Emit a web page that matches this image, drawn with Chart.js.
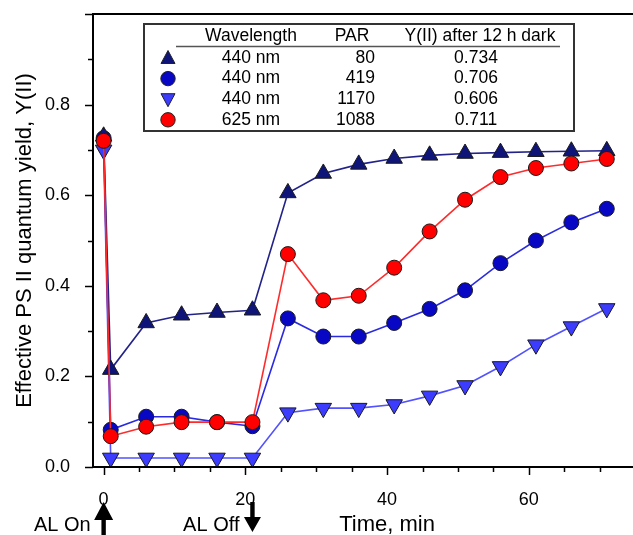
<!DOCTYPE html>
<html>
<head>
<meta charset="utf-8">
<script src="https://cdn.jsdelivr.net/npm/chart.js@4"></script>
<style>
  html, body { margin: 0; padding: 0; background: #fff; }
  #wrap { width: 633px; height: 535px; }
</style>
</head>
<body>
<div id="wrap"><canvas id="chart" width="633" height="535"></canvas></div>
<script>
// time points (min)
const times = [0, 1, 6, 11, 16, 21, 26, 31, 36, 41, 46, 51, 56, 61, 66, 71];

// Y(II) per light treatment
const yield440par80   = [0.73, 0.215, 0.318, 0.335, 0.341, 0.346, 0.605, 0.648, 0.668, 0.681, 0.688, 0.692, 0.694, 0.696, 0.697, 0.698];
const yield440par419  = [0.726, 0.082, 0.111, 0.111, 0.099, 0.09, 0.328, 0.288, 0.288, 0.318, 0.349, 0.39, 0.45, 0.5, 0.54, 0.57];
const yield440par1170 = [0.70, 0.02, 0.02, 0.02, 0.02, 0.02, 0.12, 0.13, 0.13, 0.138, 0.157, 0.18, 0.222, 0.27, 0.31, 0.35];
const yield625par1088 = [0.72, 0.068, 0.089, 0.099, 0.099, 0.099, 0.47, 0.368, 0.378, 0.44, 0.52, 0.59, 0.64, 0.66, 0.67, 0.68];

// legend table
const legendHeader = ["Wavelength", "PAR", "Y(II) after 12 h dark"];
const wavelengths = ["440 nm", "440 nm", "440 nm", "625 nm"];
const parValues = ["80", "419", "1170", "1088"];
const darkYields = ["0.734", "0.706", "0.606", "0.711"];

// axis ticks
const xTicks = [0, 5, 10, 15, 20, 25, 30, 35, 40, 45, 50, 55, 60, 65, 70];
const xLabelTicks = [0, 20, 40, 60];
const yTicks = [0, 0.1, 0.2, 0.3, 0.4, 0.5, 0.6, 0.7, 0.8, 0.9, 1.0];
const yLabelTicks = [0, 0.2, 0.4, 0.6, 0.8];

// actinic light events
const lightEvents = [
  { t: 0, label: "AL On", dir: "up" },
  { t: 21, label: "AL Off", dir: "down" }
];

const FONT = "'Liberation Sans', Arial, sans-serif";

function toPoints(ys) {
  return times.map((t, i) => ({ x: t, y: ys[i] }));
}

const series = [
  { data: yield625par1088, fill: "#ff0000", line: "#ff2b2b", style: "circle", rot: 0, r: 7.5 },
  { data: yield440par80, fill: "#0e1478", line: "#22228a", style: "triangle", rot: 0, r: 9.5 },
  { data: yield440par419, fill: "#0808c4", line: "#2a2ae0", style: "circle", rot: 0, r: 7.5 },
  { data: yield440par1170, fill: "#3c3cff", line: "#5252ff", style: "triangle", rot: 180, r: 9.5 }
];

// legend rows follow the table order
const legendMarkers = [
  { fill: "#0e1478", style: "up" },
  { fill: "#0808c4", style: "circle" },
  { fill: "#3c3cff", style: "down" },
  { fill: "#ff0000", style: "circle" }
];

function drawMarker(ctx, x, y, m) {
  ctx.beginPath();
  if (m.style === "circle") {
    ctx.arc(x, y, 7.2, 0, Math.PI * 2);
  } else if (m.style === "up") {
    ctx.moveTo(x, y - 7.5);
    ctx.lineTo(x + 7, y + 5.5);
    ctx.lineTo(x - 7, y + 5.5);
    ctx.closePath();
  } else {
    ctx.moveTo(x, y + 7.5);
    ctx.lineTo(x + 7, y - 5.5);
    ctx.lineTo(x - 7, y - 5.5);
    ctx.closePath();
  }
  ctx.fillStyle = m.fill;
  ctx.fill();
  ctx.lineWidth = 1;
  ctx.strokeStyle = "#222";
  ctx.stroke();
}

const framePlugin = {
  id: "frame",
  afterDraw(chart) {
    const ctx = chart.ctx;
    const a = chart.chartArea;
    const xs = chart.scales.x;
    const ys = chart.scales.y;
    ctx.save();

    // axes and frame
    ctx.strokeStyle = "#000";
    ctx.lineWidth = 2;
    ctx.beginPath();
    ctx.moveTo(a.right, a.top);
    ctx.lineTo(a.left, a.top);
    ctx.lineTo(a.left, a.bottom);
    ctx.lineTo(a.right, a.bottom);
    ctx.stroke();

    // tick marks
    ctx.lineWidth = 1.5;
    xTicks.forEach(v => {
      const px = Math.round(xs.getPixelForValue(v)) + 0.5;
      const len = xLabelTicks.includes(v) ? 8 : 5;
      ctx.beginPath();
      ctx.moveTo(px, a.bottom);
      ctx.lineTo(px, a.bottom + len);
      ctx.stroke();
    });
    yTicks.forEach(v => {
      const py = Math.round(ys.getPixelForValue(v)) + 0.5;
      const major = yLabelTicks.some(t => Math.abs(t - v) < 1e-6) || Math.abs(v - 1) < 1e-6;
      const len = major ? 8 : 5;
      ctx.beginPath();
      ctx.moveTo(a.left, py);
      ctx.lineTo(a.left - len, py);
      ctx.stroke();
    });

    // y title
    ctx.fillStyle = "#000";
    ctx.font = "22px " + FONT;
    ctx.textAlign = "center";
    ctx.textBaseline = "middle";
    ctx.save();
    ctx.translate(25, (a.top + a.bottom) / 2);
    ctx.rotate(-Math.PI / 2);
    ctx.fillText("Effective PS II quantum yield, Y(II)", 0, 0);
    ctx.restore();

    // x title
    ctx.fillText("Time, min", xs.getPixelForValue(40), 525);

    // light on / off arrows
    ctx.font = "20px " + FONT;
    lightEvents.forEach(ev => {
      const px = xs.getPixelForValue(ev.t);
      ctx.textAlign = "right";
      ctx.fillText(ev.label, px - 13, 525);
      ctx.beginPath();
      if (ev.dir === "up") {
        ctx.moveTo(px, 502);
        ctx.lineTo(px + 9.5, 520);
        ctx.lineTo(px + 2.2, 520);
        ctx.lineTo(px + 2.2, 535);
        ctx.lineTo(px - 2.2, 535);
        ctx.lineTo(px - 2.2, 520);
        ctx.lineTo(px - 9.5, 520);
      } else {
        ctx.moveTo(px - 2.2, 502);
        ctx.lineTo(px + 2.2, 502);
        ctx.lineTo(px + 2.2, 517);
        ctx.lineTo(px + 8.5, 517);
        ctx.lineTo(px, 532);
        ctx.lineTo(px - 8.5, 517);
        ctx.lineTo(px - 2.2, 517);
      }
      ctx.closePath();
      ctx.fill();
    });

    // legend table
    const bx = 144, by = 24, bw = 430, bh = 107;
    ctx.fillStyle = "#fff";
    ctx.fillRect(bx, by, bw, bh);
    ctx.strokeStyle = "#333";
    ctx.lineWidth = 2;
    ctx.strokeRect(bx, by, bw, bh);

    ctx.fillStyle = "#000";
    ctx.font = "17.5px " + FONT;
    ctx.textAlign = "center";
    ctx.fillText(legendHeader[0], 251, 36);
    ctx.fillText(legendHeader[1], 352, 36);
    ctx.fillText(legendHeader[2], 480, 36);

    ctx.strokeStyle = "#555";
    ctx.lineWidth = 1.5;
    ctx.beginPath();
    ctx.moveTo(176, 46.5);
    ctx.lineTo(560, 46.5);
    ctx.stroke();

    wavelengths.forEach((w, i) => {
      const ry = 58 + i * 20.6;
      drawMarker(ctx, 168, ry, legendMarkers[i]);
      ctx.fillStyle = "#000";
      ctx.textAlign = "center";
      ctx.fillText(w, 251, ry);
      ctx.textAlign = "right";
      ctx.fillText(parValues[i], 375, ry);
      ctx.textAlign = "center";
      ctx.fillText(darkYields[i], 476, ry);
    });

    ctx.restore();
  }
};

new Chart(document.getElementById("chart"), {
  type: "line",
  data: {
    datasets: series.map(s => ({
      data: toPoints(s.data),
      borderColor: s.line,
      borderWidth: 1.6,
      backgroundColor: s.fill,
      pointBackgroundColor: s.fill,
      pointBorderColor: "#1a1a1a",
      pointBorderWidth: 1,
      pointRadius: s.r,
      pointStyle: s.style,
      pointRotation: s.rot,
      tension: 0,
      fill: false
    }))
  },
  options: {
    responsive: false,
    animation: false,
    layout: { autoPadding: false, padding: { top: 14, right: 0, left: 0, bottom: 0 } },
    plugins: { legend: { display: false }, tooltip: { enabled: false } },
    scales: {
      x: {
        type: "linear",
        min: -1.5,
        max: 74.7,
        afterBuildTicks: s => { s.ticks = xTicks.map(v => ({ value: v })); },
        afterFit: s => { s.height = 68; s.paddingLeft = 0; s.paddingRight = 0; },
        grid: { display: false },
        border: { display: false },
        ticks: {
          autoSkip: false,
          maxRotation: 0,
          padding: 14,
          color: "#000",
          font: { size: 18, family: FONT },
          callback: v => (xLabelTicks.includes(v) ? String(v) : "")
        }
      },
      y: {
        min: 0,
        max: 1.0,
        afterBuildTicks: s => { s.ticks = yTicks.map(v => ({ value: v })); },
        afterFit: s => { s.width = 93; s.paddingTop = 0; s.paddingBottom = 0; },
        grid: { display: false },
        border: { display: false },
        ticks: {
          autoSkip: false,
          padding: 15,
          color: "#000",
          font: { size: 18, family: FONT },
          callback: v => (yLabelTicks.some(t => Math.abs(t - v) < 1e-6) ? v.toFixed(1) : "")
        }
      }
    }
  },
  plugins: [framePlugin]
});
</script>
</body>
</html>
